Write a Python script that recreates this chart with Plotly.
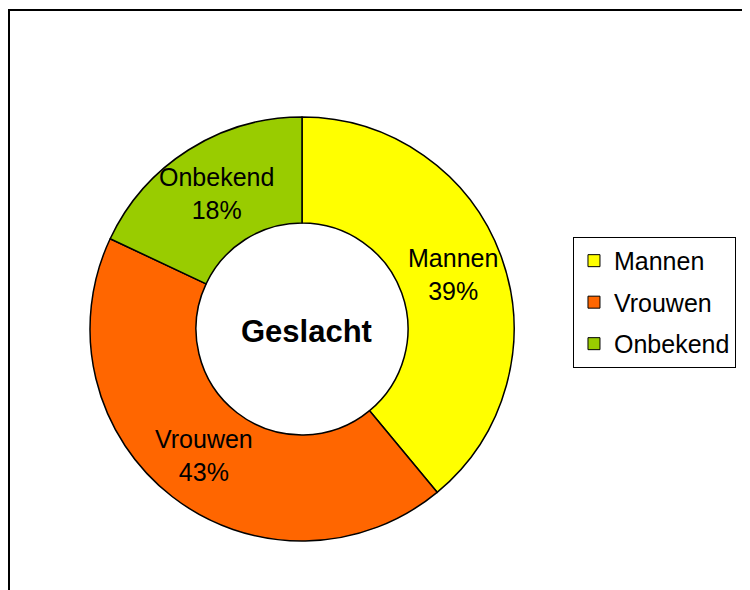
import math
import plotly.graph_objects as go

labels = ["Mannen", "Vrouwen", "Onbekend"]
values = [39, 43, 18]
colors = ["#FFFF00", "#FF6600", "#99CC00"]
title_text = "Geslacht"

W, H = 750, 590
FONT = "Liberation Sans, Arial"

# pie geometry in pixels (paper, top-left origin)
cx, cy, r_out = 294, 321, 212
label_r = 160

fig = go.Figure()
fig.add_trace(go.Pie(
    labels=labels,
    values=values,
    hole=0.5,
    sort=False,
    direction="clockwise",
    rotation=0,
    marker=dict(colors=colors, line=dict(color="black", width=1.5)),
    textposition="none",
    showlegend=False,
    domain=dict(x=[(cx - r_out) / W, (cx + r_out) / W],
                y=[1 - (cy + r_out) / H, 1 - (cy - r_out) / H]),
))

# slice labels placed on the bisector of each slice (like Excel does)
total = sum(values)
cum = 0
for lab, v in zip(labels, values):
    mid = (cum + v / 2) / total * 2 * math.pi
    cum += v
    px_ = cx + label_r * math.sin(mid)
    py_ = cy - label_r * math.cos(mid)
    fig.add_annotation(
        text="%s<br>%d%%" % (lab, round(v / total * 100)),
        x=px_ / W, y=1 - py_ / H, xref="paper", yref="paper",
        xanchor="center", yanchor="middle",
        showarrow=False, align="center",
        font=dict(family=FONT, size=25, color="black"),
    )

# legend entries
for lab, c in zip(labels, colors):
    fig.add_trace(go.Scatter(
        x=[None], y=[None], mode="markers", name=lab, legendgroup=lab,
        marker=dict(symbol="square", size=12, color=c,
                    line=dict(color="black", width=1)),
    ))

fig.add_annotation(
    text="<b>%s</b>" % title_text,
    x=0.398, y=0.4517, xref="paper", yref="paper",
    xanchor="center", yanchor="middle",
    showarrow=False,
    font=dict(family=FONT, size=31, color="black"),
)

# outer chart frame (only top and left edges fall inside the window)
fig.add_shape(type="rect", xref="paper", yref="paper",
              x0=1 / W, y0=-0.02, x1=1.02, y1=1 - 2 / H,
              line=dict(color="black", width=2))

fig.update_layout(
    width=W, height=H,
    margin=dict(l=0, r=0, t=0, b=0),
    paper_bgcolor="white",
    plot_bgcolor="white",
    font=dict(family=FONT, size=25, color="black"),
    xaxis=dict(visible=False),
    yaxis=dict(visible=False),
    showlegend=True,
    legend=dict(
        x=0.7533, y=0.612, xanchor="left", yanchor="top",
        bordercolor="black", borderwidth=1, bgcolor="white",
        font=dict(size=25), tracegroupgap=6,
    ),
)

fig.write_html("out.html")
